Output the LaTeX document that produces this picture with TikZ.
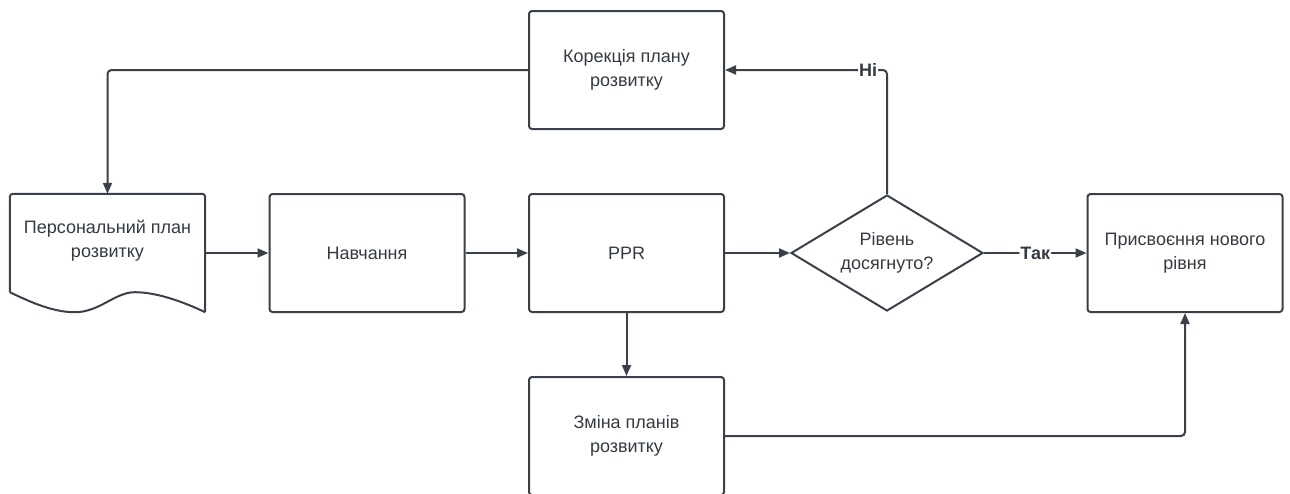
\documentclass[tikz,border=0pt]{standalone}
\usepackage{fontspec}
\setmainfont{Liberation Sans}
\usetikzlibrary{arrows.meta,shapes.geometric,calc}
\definecolor{ink}{HTML}{3A4049}
\definecolor{txt}{HTML}{333A42}
\begin{document}
\begin{tikzpicture}[x=1pt,y=-1pt,
  every node/.style={text=txt,font=\fontsize{18}{24}\selectfont,align=center},
  box/.style={draw=ink,line width=2pt,rounded corners=3pt,minimum width=195pt,minimum height=118pt,inner sep=0pt},
  ghost/.style={minimum width=195pt,minimum height=118pt,inner sep=0pt},
  choice/.style={draw=ink,line width=2pt,diamond,aspect=1.65,minimum width=192pt,minimum height=116pt,inner sep=0pt},
  link/.style={draw=ink,line width=2pt,rounded corners=4pt,-{Triangle[length=11pt,width=9pt]}},
  tag/.style={fill=white,inner sep=1pt,font=\bfseries\fontsize{18}{20}\selectfont}]
\useasboundingbox (0,0) rectangle (1290,493);

% nodes
\node[box] (kor) at (626.5,70) {Корекція плану\\розвитку};
\node[ghost] (pers) at (107.5,253) {};
\node (perstext) at (107.5,241) {Персональний план\\розвитку};
\node[box] (nav) at (367,253) {Навчання};
\node[box] (ppr) at (626.5,253) {PPR};
\node[choice] (lvl) at (887,253) {Рівень\\досягнуто?};
\node[box] (prys) at (1185,253) {Присвоєння нового\\рівня};
\node[box] (zm) at (626.5,436) {Зміна планів\\розвитку};

% document shape with wavy bottom edge
\draw[ink,line width=2pt,rounded corners=3pt]
  ($(pers.south west)+(0,-20)$) -- (pers.north west) -- (pers.north east)
  -- (pers.south east);
\draw[ink,line width=2pt]
  ($(pers.south west)+(0,-20)$)
  .. controls ($(pers.south west)+(25,-8)$) and ($(pers.south west)+(45,0)$) .. ($(pers.south west)+(65,0)$)
  .. controls ($(pers.south west)+(90,0)$) and ($(pers.south west)+(105,-20)$) .. ($(pers.south west)+(125,-20)$)
  .. controls ($(pers.south west)+(145,-20)$) and ($(pers.south west)+(170,-12)$) .. (pers.south east);

% connectors
\draw[link] (kor.west) -| (pers.north);
\draw[link] (pers.east) -- (nav.west);
\draw[link] (nav.east) -- (ppr.west);
\draw[link] (ppr.east) -- (lvl.west);
\draw[link] (lvl.east) -- node[tag,pos=0.5] {Так} (prys.west);
\draw[link] (lvl.north) |- node[tag,pos=0.558] {Ні} (kor.east);
\draw[link] (ppr.south) -- (zm.north);
\draw[link] (zm.east) -| (prys.south);
\end{tikzpicture}
\end{document}
